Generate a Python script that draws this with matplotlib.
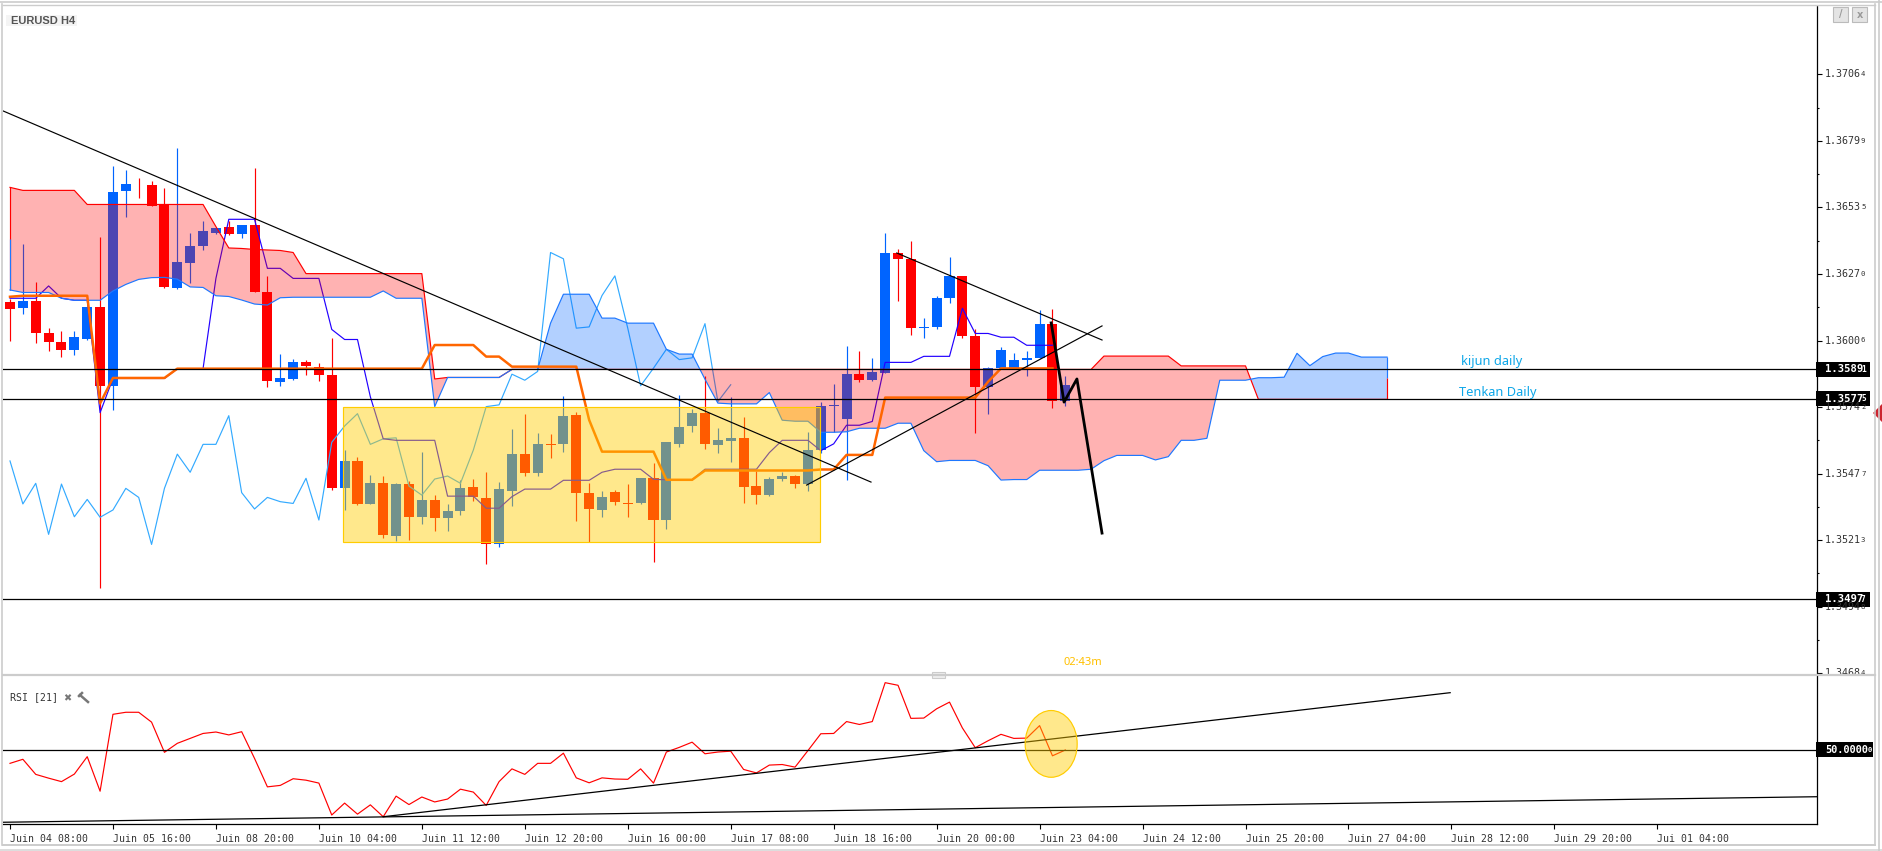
import matplotlib
matplotlib.use("Agg")
import numpy as np
import matplotlib.pyplot as plt
from matplotlib.patches import Rectangle, Ellipse, Polygon

# prices are written in 1e-5 units, divided further down
open_pts = [136159, 136135, 136163, 136036, 136000, 135968, 136012, 136139, 135825, 136600,
            136628, 136624, 136549, 136215, 136314, 136382, 136433, 136457, 136429, 136465,
            136199, 135841, 135853, 135920, 135900, 135869, 135419, 135527, 135356, 135439,
            135228, 135435, 135304, 135371, 135300, 135328, 135423, 135380, 135195, 135408,
            135555, 135480, 135595, 135595, 135710, 135400, 135332, 135404, 135360, 135360,
            135460, 135293, 135595, 135666, 135718, 135591, 135607, 135619, 135428, 135392,
            135456, 135468, 135436, 135571, 135746, 135694, 135873, 135849, 135877, 136355,
            136331, 136056, 136060, 136176, 136263, 136024, 135821, 135897, 135897, 135928,
            135936, 136072, 135765]
high_pts = [136173, 136390, 136238, 136056, 136044, 136044, 136139, 136417, 136700, 136684,
            136652, 136640, 136612, 136771, 136433, 136481, 136453, 136481, 136465, 136692,
            136262, 135952, 135932, 135928, 135916, 136016, 135570, 135542, 135471, 135467,
            135439, 135447, 135562, 135391, 135356, 135451, 135455, 135484, 135444, 135655,
            135714, 135639, 135635, 135786, 135722, 135440, 135408, 135412, 135436, 135460,
            135519, 135603, 135790, 135734, 135865, 135659, 135782, 135702, 135488, 135464,
            135484, 135472, 135643, 135762, 135834, 135985, 135965, 135937, 136434, 136370,
            136402, 136096, 136184, 136339, 136263, 136052, 135901, 135980, 135956, 135964,
            136127, 136131, 135865]
low_pts = [136005, 136111, 135997, 135965, 135942, 135948, 136009, 135023, 135729, 136497,
           136573, 136541, 136215, 136211, 136235, 136366, 136429, 136425, 136413, 136199,
           135821, 135825, 135849, 135869, 135845, 135411, 135332, 135352, 135356, 135220,
           135208, 135212, 135276, 135248, 135248, 135312, 135367, 135119, 135183, 135348,
           135468, 135468, 135539, 135563, 135289, 135205, 135305, 135352, 135305, 135356,
           135126, 135257, 135583, 135643, 135575, 135559, 135523, 135360, 135356, 135388,
           135448, 135420, 135408, 135559, 135643, 135452, 135841, 135845, 135877, 136164,
           136028, 136016, 136052, 136156, 136016, 135638, 135714, 135897, 135897, 135865,
           135936, 135738, 135745]
close_pts = [136131, 136163, 136036, 136000, 135968, 136020, 136139, 135825, 136596, 136628,
             136627, 136541, 136219, 136318, 136382, 136441, 136453, 136429, 136465, 136199,
             135845, 135857, 135920, 135904, 135869, 135419, 135527, 135356, 135439, 135232,
             135435, 135304, 135371, 135300, 135328, 135419, 135383, 135195, 135416, 135555,
             135480, 135595, 135591, 135706, 135400, 135336, 135384, 135364, 135356, 135460,
             135293, 135603, 135663, 135718, 135595, 135611, 135619, 135424, 135392, 135456,
             135468, 135436, 135571, 135746, 135750, 135873, 135849, 135881, 136355, 136331,
             136056, 136060, 136176, 136263, 136024, 135821, 135897, 135968, 135928, 135936,
             136072, 135765, 135829]

# ichimoku lines
senkou_a = [136207, 136197, 136197, 136197, 136174, 136166, 136166, 136166, 136203, 136229,
            136249, 136256, 136257, 136250, 136219, 136217, 136184, 136181, 136167, 136151,
            136147, 136176, 136178, 136178, 136178, 136178, 136178, 136178, 136178, 136203,
            136174, 136174, 136174, 135743, 135859, 135859, 135859, 135859, 135859, 135891,
            135891, 135891, 136075, 136190, 136190, 136190, 136095, 136095, 136075, 136075,
            136075, 135971, 135952, 135952, 135852, 135757, 135754, 135754, 135754, 135799,
            135689, 135685, 135685, 135641, 135641, 135643, 135657, 135657, 135657, 135677,
            135677, 135568, 135524, 135529, 135529, 135529, 135508, 135451, 135453, 135453,
            135490, 135490, 135490, 135490, 135494, 135528, 135549, 135549, 135549, 135531,
            135544, 135609, 135609, 135617, 135848, 135848, 135848, 135858, 135858, 135860,
            135955, 135906, 135942, 135956, 135956, 135940, 135940, 135940]
senkou_b = [136615, 136603, 136603, 136603, 136603, 136603, 136547, 136547, 136547, 136547,
            136547, 136547, 136547, 136547, 136547, 136547, 136459, 136374, 136372, 136368,
            136366, 136364, 136356, 136272, 136272, 136272, 136272, 136272, 136272, 136272,
            136272, 136272, 136272, 135853, 135859, 135859, 135859, 135859, 135859, 135891,
            135891, 135891, 135891, 135891, 135891, 135891, 135891, 135891, 135891, 135891,
            135891, 135891, 135891, 135891, 135891, 135891, 135891, 135891, 135891, 135891,
            135891, 135891, 135891, 135891, 135891, 135891, 135891, 135891, 135891, 135891,
            135891, 135891, 135891, 135891, 135891, 135891, 135891, 135891, 135891, 135891,
            135891, 135891, 135891, 135891, 135891, 135944, 135944, 135944, 135944, 135944,
            135944, 135905, 135905, 135905, 135905, 135905, 135905, 135772, 135772, 135772,
            135772, 135772, 135772, 135772, 135772, 135772, 135772, 135772]
senkou_a_start = 136411
tenkan = [136174, 136174, 136174, 136223, 136174, 136166, 136166, 135719, 135855, 135855,
          135855, 135855, 135855, 135894, 135894, 135894, 136253, 136488, 136488, 136488,
          136293, 136293, 136253, 136253, 136253, 136050, 136010, 136010, 135782, 135615,
          135609, 135609, 135609, 135609, 135387, 135387, 135387, 135339, 135339, 135385,
          135415, 135415, 135415, 135450, 135450, 135450, 135482, 135494, 135494, 135494,
          135454, 135452, 135452, 135452, 135494, 135494, 135494, 135494, 135494, 135560,
          135609, 135609, 135609, 135568, 135595, 135669, 135669, 135684, 135919, 135919,
          135919, 135943, 135943, 135943, 136134, 136034, 136034, 136019, 136019, 135987,
          135987, 135987]
kijun = [136180, 136184, 136184, 136184, 136184, 136184, 136184, 135756, 135857, 135857,
         135857, 135857, 135857, 135894, 135894, 135894, 135894, 135894, 135894, 135894,
         135894, 135894, 135894, 135894, 135894, 135894, 135894, 135894, 135894, 135894,
         135894, 135894, 135894, 135988, 135988, 135988, 135988, 135942, 135942, 135902,
         135902, 135902, 135902, 135902, 135902, 135690, 135564, 135564, 135564, 135564,
         135564, 135452, 135452, 135452, 135489, 135489, 135489, 135489, 135489, 135489,
         135489, 135489, 135489, 135493, 135493, 135551, 135551, 135551, 135779, 135779,
         135779, 135779, 135779, 135779, 135779, 135779, 135842, 135895, 135895, 135895,
         135895, 135895]
chikou = [135527, 135356, 135438, 135235, 135435, 135305, 135374, 135303, 135332, 135418,
          135382, 135195, 135418, 135554, 135482, 135593, 135593, 135707, 135401, 135336,
          135382, 135365, 135358, 135458, 135292, 135601, 135666, 135715, 135593, 135615,
          135619, 135427, 135391, 135455, 135467, 135438, 135570, 135743, 135750, 135872,
          135848, 135883, 136356, 136331, 136055, 136060, 136185, 136263, 136055, 135826,
          135896, 135971, 135930, 135937, 136073, 135763, 135830]

rsi_values = [45.3, 46.7, 41.5, 40.2, 39.0, 41.6, 47.6, 35.7, 62.2, 62.9,
              62.9, 59.5, 49.1, 52.2, 53.9, 55.6, 56.1, 55.1, 56.2, 47.0,
              37.2, 37.7, 40.0, 39.5, 38.5, 27.5, 31.6, 27.8, 31.0, 26.9,
              34.0, 31.1, 33.7, 32.0, 33.0, 36.4, 35.4, 30.8, 39.0, 43.4,
              41.5, 45.3, 45.3, 48.8, 40.3, 38.6, 40.3, 39.9, 39.8, 43.4,
              38.5, 49.2, 50.8, 52.6, 48.6, 49.2, 49.5, 43.2, 42.0, 44.7,
              44.9, 44.0, 49.7, 55.5, 55.6, 59.7, 58.7, 59.7, 73.1, 72.2,
              60.8, 60.9, 64.1, 66.4, 57.5, 50.7, 53.1, 55.3, 53.9, 54.0,
              58.3, 47.9, 49.9]

# drawn objects on the price panel: [bar, price]
trend_down = [[-0.54, 136919], [66.9, 135443]]
trend_up = [[61.9, 135431], [84.85, 136064]]
trend_short = [[68.9, 136354], [84.85, 136008]]
forecast = [[80.9, 136076], [81.9, 135761], [82.9, 135853], [84.85, 135240]]
level_prices = [135891, 135775, 134977]
box_bars = [25.9, 62.9]
box_prices = [135203, 135740]

# drawn objects on the rsi panel
rsi_trend_a = [[29.0, 26.9], [111.9, 69.65]]
rsi_trend_b = [[-0.54, 25.0], [140.4, 33.8]]

tick_bars = [0, 8, 16, 24, 32, 40, 48, 56, 64, 72, 80, 88, 96, 104, 112, 120, 128]
tick_dates = ["Juin 04 08:00", "Juin 05 16:00", "Juin 08 20:00", "Juin 10 04:00", "Juin 11 12:00",
              "Juin 12 20:00", "Juin 16 00:00", "Juin 17 08:00", "Juin 18 16:00", "Juin 20 00:00",
              "Juin 23 04:00", "Juin 24 12:00", "Juin 25 20:00", "Juin 27 04:00", "Juin 28 12:00",
              "Juin 29 20:00", "Jui 01 04:00"]
price_ticks = ["1.37064", "1.36799", "1.36535", "1.36270", "1.36006",
               "1.35742", "1.35477", "1.35213", "1.34948", "1.34684"]

W, H = 1882, 851
LEFT, RIGHT = 3, 1817
BLUE = "#0064FF"
RED = "#FF0000"
MONO = "DejaVu Sans Mono"


def panel(top, bottom):
    return [LEFT / W, 1 - bottom / H, (RIGHT - LEFT) / W, (bottom - top) / H]


def small_digit_label(ax, value, x_frac, color="#333333", size=7.2, weight="normal"):
    # broker style price: last digit is printed smaller
    y = float(value)
    ax.text(x_frac, y, value[:-1], transform=ax.get_yaxis_transform(), family=MONO, fontsize=size,
            color=color, va="center", ha="left", weight=weight, clip_on=False, zorder=12)
    ax.text(x_frac + 36 / (RIGHT - LEFT), y, value[-1], transform=ax.get_yaxis_transform(), family=MONO,
            fontsize=size - 2, color=color, va="center", ha="left", weight=weight, clip_on=False, zorder=12)


fig = plt.figure(figsize=(W / 100, H / 100), dpi=100, facecolor="white")
ax = fig.add_axes(panel(5, 675))
rsi_ax = fig.add_axes(panel(676, 824))

o = np.array(open_pts) / 1e5
h = np.array(high_pts) / 1e5
l = np.array(low_pts) / 1e5
c = np.array(close_pts) / 1e5
bars = np.arange(len(o))
colors = [BLUE if c[i] >= o[i] else RED for i in bars]

ax.vlines(bars, l, h, colors=colors, linewidth=0.85, zorder=2)
ax.bar(bars, np.abs(c - o), bottom=np.minimum(o, c), width=0.78, color=colors, linewidth=0, zorder=2)

a = np.array(senkou_a) / 1e5
b = np.array(senkou_b) / 1e5
cloud_x = np.arange(len(a))
ax.plot(np.arange(len(chikou)), np.array(chikou) / 1e5, color="#33AAFF", lw=0.85, zorder=2.5)
ax.plot(np.arange(len(tenkan)), np.array(tenkan) / 1e5, color="#2200FF", lw=0.85, zorder=2.5)
ax.fill_between(cloud_x, a, b, where=b >= a, interpolate=True, color=RED, alpha=0.3, linewidth=0, zorder=3)
ax.fill_between(cloud_x, a, b, where=a >= b, interpolate=True, color=BLUE, alpha=0.3, linewidth=0, zorder=3)
ax.plot(cloud_x, b, color=RED, lw=0.85, zorder=3.2)
ax.plot(cloud_x, a, color="#1E78FF", lw=0.85, zorder=3.3)
ax.vlines(cloud_x[0], a[0], b[0], color=RED, lw=0.85, zorder=3.2)
ax.vlines(cloud_x[0], a[0], senkou_a_start / 1e5, color="#1E78FF", lw=0.85, zorder=3.3)
ax.vlines(cloud_x[-1], (a[-1] + b[-1]) / 2, a[-1], color="#1E78FF", lw=0.85, zorder=3.3)
ax.vlines(cloud_x[-1], b[-1], (a[-1] + b[-1]) / 2, color=RED, lw=0.85, zorder=3.3)
ax.plot(np.arange(len(kijun)), np.array(kijun) / 1e5, color="#FF6600", lw=1.8, zorder=3.5)

ax.add_patch(Rectangle((box_bars[0], box_prices[0] / 1e5), box_bars[1] - box_bars[0],
                       (box_prices[1] - box_prices[0]) / 1e5, facecolor="#FFCC00", alpha=0.45,
                       edgecolor="none", zorder=4))
ax.add_patch(Rectangle((box_bars[0], box_prices[0] / 1e5), box_bars[1] - box_bars[0],
                       (box_prices[1] - box_prices[0]) / 1e5, facecolor="none",
                       edgecolor="#FFCC00", lw=0.85, zorder=4.1))

for line, width in [(trend_down, 0.85), (trend_up, 0.85), (trend_short, 0.85), (forecast, 2.0)]:
    pts = np.array(line)
    ax.plot(pts[:, 0], pts[:, 1] / 1e5, color="black", lw=width, zorder=5)
for level in level_prices:
    ax.axhline(level / 1e5, color="black", lw=0.9, zorder=5)

x_min = (LEFT - 10) / 12.87
x_max = (RIGHT - 10) / 12.87
ax.set_xlim(x_min, x_max)
ax.set_ylim((136006 - 334.5 * 3.977) / 1e5, (136006 + 335.5 * 3.977) / 1e5)
for name in ["top", "left", "bottom"]:
    ax.spines[name].set_visible(False)
ax.spines["right"].set_linestyle((0, (7, 1)))
ax.spines["right"].set_linewidth(0.9)
ax.set_xticks([])
ticks = [float(t) for t in price_ticks]
ax.yaxis.tick_right()
ax.set_yticks(ticks)
ax.set_yticklabels([])
ax.set_yticks([(ticks[i] + ticks[i + 1]) / 2 for i in range(len(ticks) - 1)], minor=True)
ax.tick_params(axis="y", which="major", length=3.5, width=0.8, pad=0)
ax.tick_params(axis="y", which="minor", length=1.5, width=0.8)

label_x = 1 + 8 / (RIGHT - LEFT)
for t in price_ticks:
    small_digit_label(ax, t, label_x)
for t in ["1.35891", "1.35775", "1.34977"]:
    half = 7.5 * 3.977e-5
    ax.add_patch(Rectangle((1 - 1 / (RIGHT - LEFT), float(t) - half), 54 / (RIGHT - LEFT), 2 * half,
                           transform=ax.get_yaxis_transform(),
                           facecolor="black", edgecolor="none", clip_on=False, zorder=11))
    small_digit_label(ax, t, label_x, color="white", size=7.6, weight="bold")

ax.text((1461 - LEFT) / (RIGHT - LEFT), 1.35891 + 7.5 * 3.977e-5, "kijun daily", transform=ax.get_yaxis_transform(),
        family="Noto Sans", fontsize=9.2, color="#0CA6E8", va="center", zorder=6)
ax.text((1459 - LEFT) / (RIGHT - LEFT), 1.35775 + 6.5 * 3.977e-5, "Tenkan Daily", transform=ax.get_yaxis_transform(),
        family="Noto Sans", fontsize=9.2, color="#0CA6E8", va="center", zorder=6)
ax.text((1063 - LEFT) / (RIGHT - LEFT), 0.018, "02:43m", transform=ax.transAxes, family="Noto Sans", fontsize=8,
        color="#FFC000", va="center", zorder=6)

# rsi panel
rsi_ax.plot(np.arange(len(rsi_values)), rsi_values, color=RED, lw=0.85, zorder=2)
rsi_ax.axhline(50, color="black", lw=0.9, zorder=3)
for line in [rsi_trend_a, rsi_trend_b]:
    pts = np.array(line)
    rsi_ax.plot(pts[:, 0], pts[:, 1], color="black", lw=0.9, zorder=3)
rsi_ax.set_xlim(x_min, x_max)
rsi_ax.set_ylim(24.4, 75.4)
rsi_ax.add_patch(Ellipse((80.9, 52.0), 4.04, 23.0, facecolor="#FFCC00", alpha=0.45, edgecolor="none", zorder=4))
rsi_ax.add_patch(Ellipse((80.9, 52.0), 4.04, 23.0, facecolor="none", edgecolor="#FFCC00", lw=0.85, zorder=4.1))
rsi_ax.spines["top"].set_visible(False)
rsi_ax.spines["left"].set_visible(False)
rsi_ax.spines["right"].set_linestyle((0, (7, 1)))
rsi_ax.spines["right"].set_linewidth(0.9)
rsi_ax.spines["bottom"].set_linewidth(0.9)
rsi_ax.set_yticks([])
rsi_ax.set_xticks(tick_bars)
rsi_ax.set_xticklabels(tick_dates, family=MONO, fontsize=7.1, color="#333333", ha="left")
rsi_ax.tick_params(axis="x", length=3.6, width=0.8, pad=3.5)
half = 7.5 / 2.9
rsi_ax.add_patch(Rectangle((1 - 1 / (RIGHT - LEFT), 50 - half), 57 / (RIGHT - LEFT), 2 * half,
                           transform=rsi_ax.get_yaxis_transform(),
                           facecolor="black", edgecolor="none", clip_on=False, zorder=11))
rsi_ax.text(label_x, 50, "50.0000", transform=rsi_ax.get_yaxis_transform(), family=MONO, fontsize=7.4,
            weight="bold", color="white", va="center", clip_on=False, zorder=12)
rsi_ax.text(label_x + 43 / (RIGHT - LEFT), 50, "0", transform=rsi_ax.get_yaxis_transform(), family=MONO, fontsize=5.2,
            weight="bold", color="white", va="center", clip_on=False, zorder=12)

# window chrome in pixel coordinates
chrome = fig.add_axes([0, 0, 1, 1], zorder=10)
chrome.set_xlim(0, W)
chrome.set_ylim(H, 0)
chrome.axis("off")
chrome.patch.set_alpha(0)
GREY = "#CCCCCC"
chrome.plot([0, W], [2, 2], color=GREY, lw=1.2)
chrome.plot([3, 1875], [4.5, 4.5], color=GREY, lw=1.0)
chrome.plot([2.5, 2.5], [4, 845], color=GREY, lw=1.2)
chrome.plot([1875, 1875], [4, 845], color=GREY, lw=1.2)
chrome.plot([1879, 1879], [0, H], color=GREY, lw=1.2)
chrome.plot([3, 1875], [675, 675], color=GREY, lw=1.6)
chrome.plot([3, 1875], [845, 845], color=GREY, lw=1.4)
chrome.add_patch(Rectangle((0, 849), W, 2, facecolor="#DDDDDD", edgecolor="none"))
chrome.add_patch(Rectangle((932, 672), 13, 6, facecolor="#EEEEEE", edgecolor=GREY, lw=0.8))
chrome.add_patch(Polygon([[1873, 413], [1882, 404], [1882, 422]], facecolor="#CC2530", edgecolor="none"))
for x0, mark in [(1833, "/"), (1852, "x")]:
    chrome.add_patch(Rectangle((x0, 7), 15, 15, facecolor="#E4E4E4", edgecolor="#BBBBBB", lw=0.8))
    chrome.text(x0 + 7.5, 14.5, mark, fontsize=7, weight="bold", color="#999999", ha="center", va="center")
chrome.add_patch(Rectangle((6, 15), 71, 11, facecolor="#F4F4F4", edgecolor="none"))
chrome.text(11, 20.8, "EURUSD H4", family="Liberation Sans", weight="bold", fontsize=8, color="#555555", va="center")
chrome.text(10, 697, "RSI [21]", family=MONO, fontsize=7.1, color="#333333", va="center")
chrome.text(67, 698, "\u2716", family="DejaVu Sans", fontsize=7, color="#777777", ha="center", va="center")
chrome.plot([80, 88], [695, 702], color="#777777", lw=1.8)
chrome.plot([79, 82], [696, 693], color="#777777", lw=1.8)

fig.savefig("out.png", dpi=100, facecolor="white")
